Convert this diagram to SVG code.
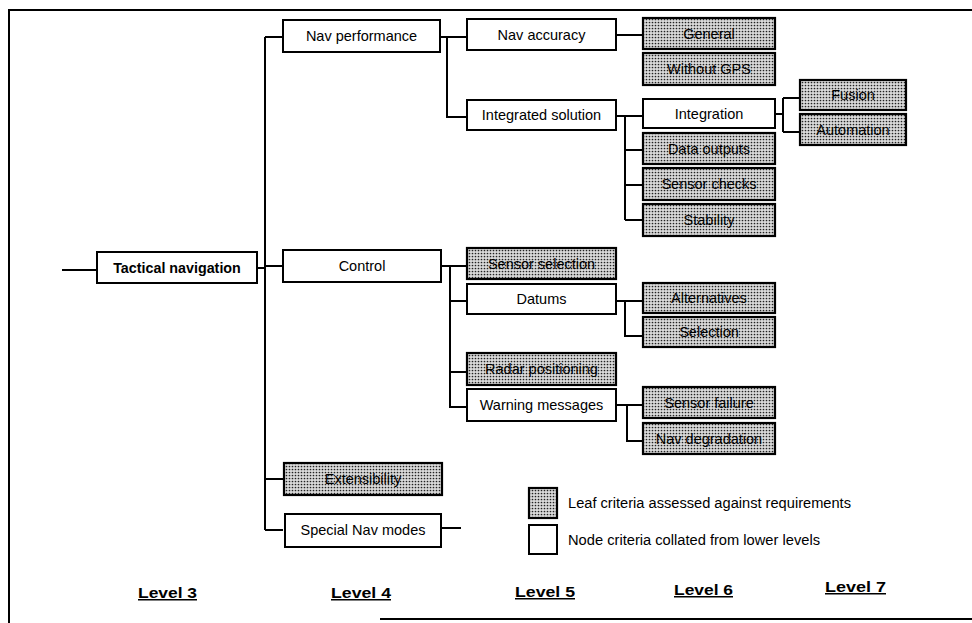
<svg xmlns="http://www.w3.org/2000/svg" width="972" height="623" viewBox="0 0 972 623">
<defs>
<pattern id="dots" width="3" height="3" patternUnits="userSpaceOnUse">
<rect width="3" height="3" fill="#dadada"/>
<circle cx="1.5" cy="1.5" r="0.85" fill="#222"/>
</pattern>
</defs>
<style>
.box{fill:#fff;stroke:#000;stroke-width:2}
.leaf{fill:url(#dots);stroke:#000;stroke-width:2.2}
.t{font-family:"Liberation Sans",Arial,sans-serif;font-size:14.5px;fill:#000;text-anchor:middle}
.tb{font-family:"Liberation Sans",Arial,sans-serif;font-size:14.3px;font-weight:bold;fill:#000;text-anchor:middle}
.lg{font-family:"Liberation Sans",Arial,sans-serif;font-size:14px;fill:#000}
.lv{font-family:"Liberation Sans",Arial,sans-serif;font-size:15px;font-weight:bold;fill:#000;text-decoration:underline}
.c{fill:none;stroke:#000;stroke-width:2}
</style>
<rect width="972" height="623" fill="#fff"/>
<g id="frame" fill="none" stroke="#000" stroke-width="2">
<path d="M972,10 H9 V623"/>
<path d="M380,619 H972"/>
</g>
<g id="connectors" class="c">
<path d="M62,270 H97"/>
<path d="M257,268 H265"/>
<path d="M265,37 V530"/>
<path d="M265,37 H283 M265,266 H283 M265,479 H283 M265,530 H283"/>
<path d="M441,528 H461"/>
<path d="M440,37 H467 M447,37 V117 H467"/>
<path d="M616,35 H643"/>
<path d="M616,116 H643 M625,116 V220 M625,150 H643 M625,185 H643 M625,220 H643"/>
<path d="M775,114 H783 M783,98 V132 M783,98 H800 M783,132 H800"/>
<path d="M441,266 H467 M450,266 V407 H467 M450,301 H467 M450,372 H467"/>
<path d="M616,301 H643 M625,301 V336 H643"/>
<path d="M616,405 H643 M627,405 V441 H643"/>
</g>
<g id="tactical-navigation"><rect class="box" x="97" y="252" width="160" height="31"/><text class="tb" x="177" y="273">Tactical navigation</text></g>
<g id="nav-performance"><rect class="box" x="283" y="20" width="157" height="32"/><text class="t" x="361.5" y="41">Nav performance</text></g>
<g id="control"><rect class="box" x="283" y="250" width="158" height="32"/><text class="t" x="362" y="271">Control</text></g>
<g id="extensibility"><rect class="leaf" x="284" y="463" width="158" height="32"/><text class="t" x="363" y="484">Extensibility</text></g>
<g id="special-nav-modes"><rect class="box" x="285" y="514" width="156" height="33"/><text class="t" x="363" y="535">Special Nav modes</text></g>
<g id="nav-accuracy"><rect class="box" x="467" y="19" width="149" height="31"/><text class="t" x="541.5" y="40">Nav accuracy</text></g>
<g id="integrated-solution"><rect class="box" x="467" y="100" width="149" height="30"/><text class="t" x="541.5" y="120">Integrated solution</text></g>
<g id="sensor-selection"><rect class="leaf" x="467" y="248" width="149" height="31"/><text class="t" x="541.5" y="268.5">Sensor selection</text></g>
<g id="datums"><rect class="box" x="467" y="284" width="149" height="30"/><text class="t" x="541.5" y="304">Datums</text></g>
<g id="radar-positioning"><rect class="leaf" x="467" y="353" width="149" height="32"/><text class="t" x="541.5" y="374">Radar positioning</text></g>
<g id="warning-messages"><rect class="box" x="467" y="389" width="149" height="32"/><text class="t" x="541.5" y="410">Warning messages</text></g>
<g id="general"><rect class="leaf" x="643" y="18" width="132" height="31"/><text class="t" x="709" y="38.5">General</text></g>
<g id="without-gps"><rect class="leaf" x="643" y="53" width="132" height="32"/><text class="t" x="709" y="74">Without GPS</text></g>
<g id="integration"><rect class="box" x="643" y="99" width="132" height="29"/><text class="t" x="709" y="118.5">Integration</text></g>
<g id="data-outputs"><rect class="leaf" x="643" y="133" width="132" height="31"/><text class="t" x="709" y="153.5">Data outputs</text></g>
<g id="sensor-checks"><rect class="leaf" x="643" y="168" width="132" height="32"/><text class="t" x="709" y="189">Sensor checks</text></g>
<g id="stability"><rect class="leaf" x="643" y="204" width="132" height="32"/><text class="t" x="709" y="225">Stability</text></g>
<g id="alternatives"><rect class="leaf" x="643" y="283" width="132" height="30"/><text class="t" x="709" y="303">Alternatives</text></g>
<g id="selection"><rect class="leaf" x="643" y="317" width="132" height="30"/><text class="t" x="709" y="337">Selection</text></g>
<g id="sensor-failure"><rect class="leaf" x="643" y="387" width="132" height="31"/><text class="t" x="709" y="407.5">Sensor failure</text></g>
<g id="nav-degradation"><rect class="leaf" x="643" y="423" width="132" height="31"/><text class="t" x="709" y="443.5">Nav degradation</text></g>
<g id="fusion"><rect class="leaf" x="800" y="80" width="106" height="30"/><text class="t" x="853" y="100">Fusion</text></g>
<g id="automation"><rect class="leaf" x="800" y="114" width="106" height="31"/><text class="t" x="853" y="134.5">Automation</text></g>
<g id="legend">
<rect class="leaf" x="529" y="488" width="28" height="30"/>
<rect class="box" x="529" y="525" width="28" height="29"/>
<text class="lg" x="568" y="508" textLength="283" lengthAdjust="spacingAndGlyphs">Leaf criteria assessed against requirements</text>
<text class="lg" x="568" y="545" textLength="252" lengthAdjust="spacingAndGlyphs">Node criteria collated from lower levels</text>
</g>
<g id="levels">
<text class="lv" x="138" y="598" textLength="59" lengthAdjust="spacingAndGlyphs">Level 3</text>
<text class="lv" x="331" y="598" textLength="60" lengthAdjust="spacingAndGlyphs">Level 4</text>
<text class="lv" x="515" y="597" textLength="60" lengthAdjust="spacingAndGlyphs">Level 5</text>
<text class="lv" x="674" y="595" textLength="59" lengthAdjust="spacingAndGlyphs">Level 6</text>
<text class="lv" x="825" y="592" textLength="61" lengthAdjust="spacingAndGlyphs">Level 7</text>
</g>
</svg>
